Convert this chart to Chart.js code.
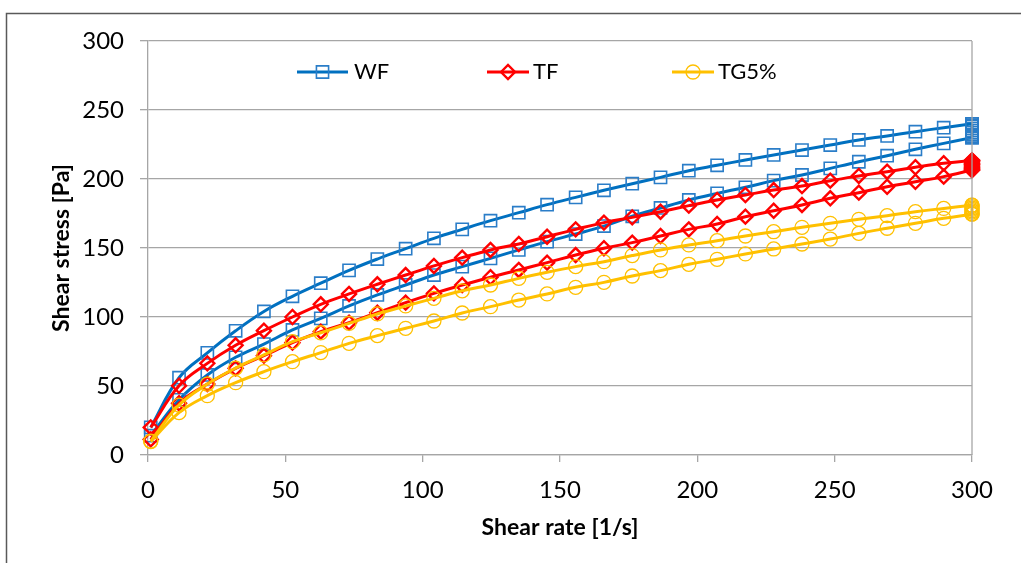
<!DOCTYPE html>
<html>
<head>
<meta charset="utf-8">
<script src="https://cdn.jsdelivr.net/npm/chart.js@4.4.1/dist/chart.umd.min.js"></script>
<style>
  html, body { margin: 0; padding: 0; background: #ffffff; }
  #wrap { position: relative; width: 1021px; height: 563px; }
</style>
</head>
<body>
<div id="wrap"><canvas id="c" width="1021" height="563"></canvas></div>
<script>
// ---- Data ----
const shearRate = [1, 11.3, 21.6, 31.9, 42.2, 52.6, 62.9, 73.2, 83.5, 93.8,
  104.1, 114.4, 124.7, 135.0, 145.3, 155.7, 166.0, 176.3, 186.6, 196.9,
  207.2, 217.5, 227.8, 238.1, 248.4, 258.8, 269.1, 279.4, 289.7, 300];

const seriesNames = ['WF', 'TF', 'TG5%'];

// up-sweep (higher branch), values at shearRate
const wfUp = [20, 56, 74, 90, 104, 115, 124.5, 133.8, 142, 149.5,
  157, 163.5, 169.8, 175.6, 181.4, 186.7, 191.8, 196.6, 201.2, 206,
  209.9, 213.8, 217.4, 221, 224.6, 228.3, 231.2, 234.3, 237.2, 240];
const tfUp = [20, 50.2, 66.4, 79.5, 90.1, 100, 109.2, 116.7, 123.7, 130.4,
  137, 143, 148.6, 152.9, 158.2, 163.5, 168.4, 172.2, 176.3, 180.7,
  184.8, 188.4, 192, 194.9, 198.8, 202.2, 205.3, 208.5, 211.4, 213.5];
const tgUp = [10.1, 36.2, 51.4, 63, 72.5, 82.1, 88.6, 95.4, 102.2, 108,
  113.5, 119, 123.2, 128, 132.4, 136.5, 140.1, 144.5, 148.6, 152.2,
  155.3, 158.7, 161.8, 165, 167.9, 170.8, 173.4, 176.3, 178.7, 181];

// hold at 300 1/s
const wfHold = [240, 239, 238, 236.5, 235, 233.5, 232, 231, 230];
const tfHold = [213.5, 212.5, 211.5, 210.5, 209.5, 208.5, 207.5, 206.5];
const tgHold = [181, 180, 179, 178, 177, 176, 175, 174.5];

// down-sweep (lower branch), values at shearRate
const wfDown = [14, 40, 58, 70.8, 80.4, 90.6, 99, 108, 116, 123.2,
  130.4, 136.5, 142.5, 148.6, 154.6, 160.1, 165.9, 173, 179, 184.8,
  189.6, 194, 198.8, 202.9, 207.7, 212.5, 216.9, 221.5, 225.8, 230];
const tfDown = [11.3, 37.5, 51.4, 62.8, 72, 81.4, 89.4, 95.9, 103.1, 110.4,
  117.1, 123.2, 128.8, 134.1, 139.4, 144.9, 149.8, 153.9, 158.7, 163.5,
  167.4, 172.7, 177, 181.2, 186, 190.1, 194.4, 198, 201.7, 206.5];
const tgDown = [9.7, 30.7, 43, 52.4, 60.4, 67.6, 74.2, 80.9, 86.5, 91.8,
  97.1, 102.9, 107.5, 112.3, 116.7, 121.5, 125.1, 129.7, 133.6, 138.2,
  141.8, 145.7, 149.3, 152.9, 156.5, 160.6, 164.3, 167.9, 171.5, 174.5];

const yTicks = [0, 50, 100, 150, 200, 250, 300];
const xTicks = [0, 50, 100, 150, 200, 250, 300];

// ---- Styles ----
const styles = [
  { line: '#0070C0', marker: '#2A7DC8', shape: 'rect', r: 8.6, bw: 1.6 },
  { line: '#FF0000', marker: '#FF0000', shape: 'rectRot', r: 7, bw: 2.4 },
  { line: '#FFC000', marker: '#FFC000', shape: 'circle', r: 7, bw: 1.3 }
];

function pts(xs, ys) { return ys.map((v, i) => ({ x: xs[i], y: v })); }
function holdPts(ys) { return ys.map(v => ({ x: 300, y: v })); }

const groups = [
  [wfUp, wfHold, wfDown],
  [tfUp, tfHold, tfDown],
  [tgUp, tgHold, tgDown]
];

const datasets = [];
groups.forEach((g, si) => {
  const s = styles[si];
  const base = {
    borderColor: s.line,
    borderWidth: 3,
    pointStyle: s.shape,
    pointRadius: s.r,
    pointHoverRadius: s.r,
    pointBorderColor: s.marker,
    pointBackgroundColor: 'rgba(0,0,0,0)',
    pointBorderWidth: s.bw,
    showLine: true,
    fill: false,
    clip: false,
    order: 2 - si
  };
  datasets.push(Object.assign({}, base, { label: seriesNames[si], data: pts(shearRate, g[0]), tension: 0.4 }));
  datasets.push(Object.assign({}, base, { label: seriesNames[si] + ' hold', data: holdPts(g[1]), tension: 0 }));
  datasets.push(Object.assign({}, base, { label: seriesNames[si] + ' down', data: pts(shearRate, g[2]), tension: 0.4 }));
});

const FONT = 'Lato, "Open Sans", sans-serif';

const frame = {
  id: 'frame',
  beforeDraw(chart) {
    const ctx = chart.ctx;
    ctx.save();
    ctx.fillStyle = '#ffffff';
    ctx.fillRect(0, 0, chart.width, chart.height);
    ctx.strokeStyle = '#595959';
    ctx.lineWidth = 1.5;
    ctx.beginPath();
    ctx.moveTo(6.5, chart.height + 2);
    ctx.lineTo(6.5, 13.5);
    ctx.lineTo(chart.width + 2, 13.5);
    ctx.stroke();
    ctx.restore();
  },
  afterDatasetsDraw(chart) {
    const a = chart.chartArea;
    const ctx = chart.ctx;
    ctx.save();
    ctx.strokeStyle = '#A6A6A6';
    ctx.lineWidth = 1.3;
    ctx.beginPath();
    ctx.moveTo(a.right, a.top);
    ctx.lineTo(a.right, a.bottom);
    ctx.stroke();
    ctx.restore();
  }
};

const legendItems = [
  { x0: 297, x1: 348, tx: 354 },
  { x0: 487, x1: 529, tx: 533 },
  { x0: 672, x1: 714, tx: 718 }
];
const insideLegend = {
  id: 'insideLegend',
  afterDraw(chart) {
    const ctx = chart.ctx;
    const y = 72;
    ctx.save();
    seriesNames.forEach((name, i) => {
      const s = styles[i];
      const p = legendItems[i];
      ctx.strokeStyle = s.line;
      ctx.lineWidth = 3;
      ctx.beginPath();
      ctx.moveTo(p.x0, y);
      ctx.lineTo(p.x1, y);
      ctx.stroke();
      ctx.strokeStyle = s.marker;
      ctx.lineWidth = s.bw;
      ctx.fillStyle = 'rgba(0,0,0,0)';
      Chart.helpers.drawPoint(ctx, {
        pointStyle: s.shape, radius: s.r, borderWidth: s.bw, rotation: 0
      }, (p.x0 + p.x1) / 2, y);
      ctx.fillStyle = '#000000';
      ctx.font = '22px ' + FONT;
      ctx.textBaseline = 'middle';
      ctx.textAlign = 'left';
      ctx.fillText(name, p.tx, y);
    });
    ctx.restore();
  }
};

new Chart(document.getElementById('c'), {
  type: 'scatter',
  data: { datasets },
  options: {
    responsive: false,
    animation: false,
    events: [],
    layout: { padding: { top: 41, right: 49, left: 0, bottom: 0 } },
    plugins: {
      legend: { display: false },
      tooltip: { enabled: false }
    },
    scales: {
      x: {
        type: 'linear',
        min: 0, max: 300,
        afterBuildTicks: (sc) => { sc.ticks = xTicks.map(v => ({ value: v })); },
        afterFit: (sc) => { sc.height = 108; },
        ticks: { color: '#000', font: { family: FONT, size: 24 }, padding: 14 },
        grid: { drawOnChartArea: false, drawTicks: true, tickLength: 7, color: '#A6A6A6', lineWidth: 1.3 },
        border: { color: '#A6A6A6', width: 1.3 },
        title: { display: true, text: 'Shear rate [1/s]', color: '#000',
          font: { family: FONT, size: 23, weight: 'bold' }, padding: { top: 0, bottom: 22 } }
      },
      y: {
        type: 'linear',
        min: 0, max: 300,
        afterBuildTicks: (sc) => { sc.ticks = yTicks.map(v => ({ value: v })); },
        afterFit: (sc) => { sc.width = 148; },
        ticks: { color: '#000', font: { family: FONT, size: 24 }, padding: 16 },
        grid: { drawTicks: true, tickLength: 8, color: '#A6A6A6', lineWidth: 1.3 },
        border: { color: '#A6A6A6', width: 1.3 },
        title: { display: true, text: 'Shear stress [Pa]', color: '#000',
          font: { family: FONT, size: 23, weight: 'bold' }, padding: { top: 48, bottom: 0 } }
      }
    }
  },
  plugins: [frame, insideLegend]
});
</script>
</body>
</html>
